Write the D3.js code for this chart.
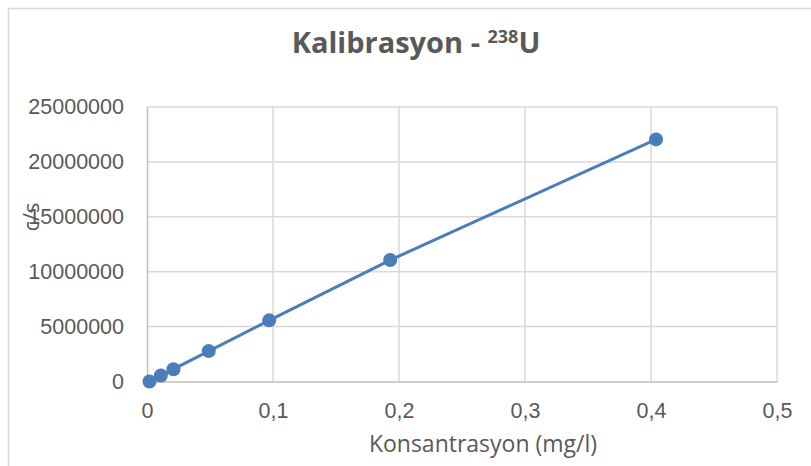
<!DOCTYPE html>
<html>
<head>
<meta charset="utf-8">
<script src="https://cdn.jsdelivr.net/npm/d3@7"></script>
<style>
  body { margin: 0; background: #fff; }
  svg { display: block; font-family: "Open Sans", sans-serif; }
  .tick text { fill: #595959; font-size: 21.5px; }
</style>
</head>
<body>
<svg width="811" height="466"></svg>
<script>
// calibration points
var konsantrasyon = [0.002, 0.011, 0.021, 0.049, 0.097, 0.193, 0.404];
var sayim = [0, 540000, 1120000, 2770000, 5570000, 11060000, 22050000];
var xTicks = [0, 0.1, 0.2, 0.3, 0.4, 0.5];
var yTicks = [0, 5000000, 10000000, 15000000, 20000000, 25000000];

var svg = d3.select("svg");
var box = { left: 147, right: 777, top: 107, bottom: 381.5 };

var x = d3.scaleLinear().domain([0, 0.5]).range([box.left, box.right]);
var y = d3.scaleLinear().domain([0, 25000000]).range([box.bottom, box.top]);

// chart frame
svg.append("path")
  .attr("d", "M8.5,470 V8.5 H820")
  .attr("fill", "none")
  .attr("stroke", "#d9d9d9")
  .attr("stroke-width", 1.5);

// gridlines
svg.append("g").selectAll("line.h")
  .data(yTicks.slice(1))
  .enter().append("line")
  .attr("x1", box.left).attr("x2", box.right)
  .attr("y1", function(d) { return y(d); })
  .attr("y2", function(d) { return y(d); })
  .attr("stroke", "#d9d9d9").attr("stroke-width", 1.5);

svg.append("g").selectAll("line.v")
  .data(xTicks.slice(1))
  .enter().append("line")
  .attr("y1", box.top).attr("y2", box.bottom)
  .attr("x1", function(d) { return x(d); })
  .attr("x2", function(d) { return x(d); })
  .attr("stroke", "#d9d9d9").attr("stroke-width", 1.5);

// axes
var fmtX = function(d) { return d === 0 ? "0" : d3.format(".1f")(d).replace(".", ","); };

var xAxis = svg.append("g")
  .attr("transform", "translate(0," + box.bottom + ")")
  .call(d3.axisBottom(x).tickValues(xTicks).tickFormat(fmtX).tickSize(0).tickPadding(21));
xAxis.select(".domain").attr("stroke", "#bfbfbf").attr("stroke-width", 1.5);

var yAxis = svg.append("g")
  .attr("transform", "translate(" + box.left + ",0)")
  .call(d3.axisLeft(y).tickValues(yTicks).tickFormat(d3.format("d")).tickSize(0).tickPadding(23));
yAxis.select(".domain").attr("stroke", "#bfbfbf").attr("stroke-width", 1.5);

// series
var pts = konsantrasyon.map(function(k, i) { return [k, sayim[i]]; });

svg.append("path")
  .datum(pts)
  .attr("fill", "none")
  .attr("stroke", "#4a7ebb")
  .attr("stroke-width", 3)
  .attr("d", d3.line()
    .x(function(d) { return x(d[0]); })
    .y(function(d) { return y(d[1]); }));

svg.append("g").selectAll("circle")
  .data(pts)
  .enter().append("circle")
  .attr("cx", function(d) { return x(d[0]); })
  .attr("cy", function(d) { return y(d[1]); })
  .attr("r", 7)
  .attr("fill", "#4a7ebb");

// titles
var title = svg.append("text")
  .attr("x", 416).attr("y", 53)
  .attr("text-anchor", "middle")
  .attr("fill", "#595959")
  .style("font-size", "29px")
  .style("font-weight", "bold");
title.append("tspan").text("Kalibrasyon - ");
title.append("tspan").text("238").style("font-size", "18px").attr("dy", -10);
title.append("tspan").text("U").attr("dy", 10);

svg.append("text")
  .attr("x", 483).attr("y", 452)
  .attr("text-anchor", "middle")
  .attr("fill", "#595959")
  .style("font-size", "23px")
  .text("Konsantrasyon (mg/l)");

svg.append("text")
  .attr("transform", "translate(39,217) rotate(-90)")
  .attr("text-anchor", "middle")
  .attr("fill", "#595959")
  .style("font-size", "22px")
  .text("c/s");
</script>
</body>
</html>
